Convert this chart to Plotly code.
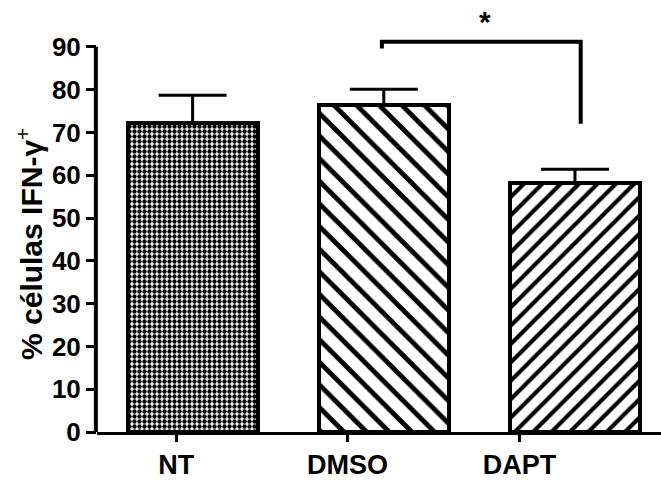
import plotly.graph_objects as go

categories = ["NT", "DMSO", "DAPT"]
means = [72.1, 76.3, 58.2]
err_plus = [6.6, 3.8, 3.2]
patterns = [".", "\\", "/"]
pattern_sizes = [5, 16, 13]
pattern_solidity = [0.6, 0.3, 0.32]
y_ticks = [0, 10, 20, 30, 40, 50, 60, 70, 80, 90]
y_range = [0, 100]

# significance bracket between DMSO and DAPT
bracket_x = [0.99, 0.99, 2.03, 2.03]
bracket_y = [89.6, 91.2, 91.2, 72.0]
star_x = 1.53
star_y = 96.0

xpos = list(range(len(categories)))
label_pos = [-0.085, 0.81, 1.71]

fig = go.Figure()
for i, c in enumerate(categories):
    fig.add_trace(go.Bar(
        x=[xpos[i]], y=[means[i]], width=0.68,
        marker=dict(
            color="white",
            line=dict(color="black", width=4),
            pattern=dict(shape=patterns[i], size=pattern_sizes[i],
                         solidity=pattern_solidity[i], fgopacity=1,
                         fgcolor="black", bgcolor="white", fillmode="overlay"),
        ),
        error_y=dict(type="data", symmetric=False, array=[err_plus[i]],
                     arrayminus=[0], color="black", thickness=3, width=34),
        showlegend=False, name=c,
    ))

fig.add_trace(go.Scatter(x=bracket_x, y=bracket_y, mode="lines",
                         line=dict(color="black", width=4),
                         showlegend=False, hoverinfo="skip"))

fig.add_annotation(x=star_x, y=star_y, text="<b>*</b>", showarrow=False,
                   font=dict(size=30, color="black", family="Liberation Sans"),
                   xref="x", yref="y")

# y axis line only up to the top tick
fig.add_shape(type="line", xref="paper", yref="paper", x0=-0.002, x1=-0.002,
              y0=0, y1=y_ticks[-1] / y_range[1],
              line=dict(color="black", width=4), layer="above")

# y axis title
fig.add_annotation(xref="paper", yref="paper", x=-0.12, y=0.44, textangle=-90,
                   text="<b>% células IFN-γ</b><sup>+</sup>", showarrow=False,
                   xanchor="center", yanchor="middle",
                   font=dict(size=30, family="Liberation Sans", color="black"))

fig.update_layout(
    width=661, height=483,
    margin=dict(l=97, r=0, t=4, b=51),
    plot_bgcolor="white", paper_bgcolor="white",
    font=dict(family="Liberation Sans", color="black"),
    bargap=0,
)
fig.update_xaxes(
    range=[-0.5, 2.45], tickvals=label_pos, ticktext=["<b>%s</b>" % c for c in categories],
    showline=True, linecolor="black", linewidth=3,
    ticks="outside", ticklen=7, tickwidth=3, tickcolor="black",
    tickfont=dict(size=27, family="Liberation Sans"), showgrid=False, zeroline=False,
)
fig.update_yaxes(
    range=y_range, tickvals=y_ticks, ticktext=["<b>%d</b>" % t for t in y_ticks],
    showline=False,
    ticks="outside", ticklen=10, tickwidth=3, tickcolor="black",
    tickfont=dict(size=26, family="Liberation Sans"), showgrid=False, zeroline=False,
)

fig.write_html("out.html")
